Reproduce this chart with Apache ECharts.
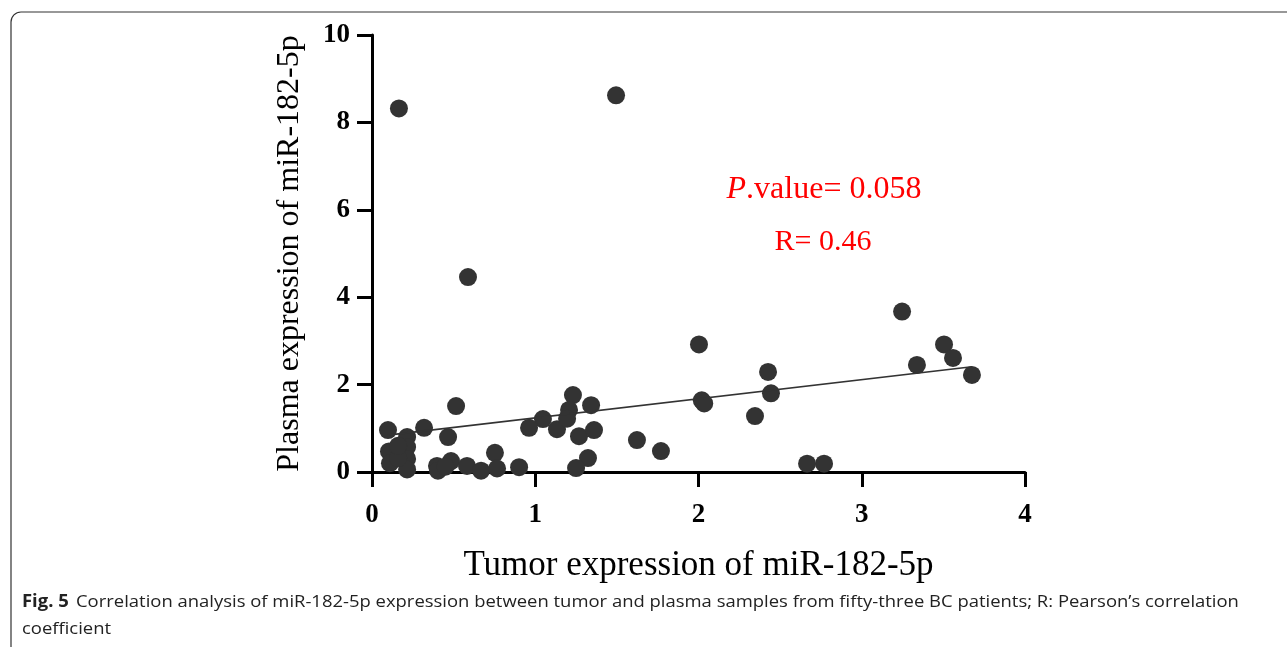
<!DOCTYPE html>
<html>
<head>
<meta charset="utf-8">
<script src="https://cdn.jsdelivr.net/npm/echarts@6/dist/echarts.min.js"></script>
<style>
html,body{margin:0;padding:0;background:#fff;}
#chart{width:1287px;height:647px;}
</style>
</head>
<body>
<div id="chart"></div>
<script>
// Tumor (x) and plasma (y) expression of miR-182-5p
const tumorExpr = [
  0.165, 1.495, 0.588, 3.247, 2.003, 3.504, 3.559, 3.338, 3.675, 2.426,
  2.444, 2.346, 2.020, 2.035, 1.623, 1.770, 2.665, 2.769, 1.231, 1.342,
  1.047, 0.962, 1.133, 1.207, 1.195, 1.268, 1.360, 1.323, 1.250, 0.901,
  0.515, 0.098, 0.319, 0.466, 0.215, 0.104, 0.110, 0.215, 0.215, 0.215,
  0.160, 0.753, 0.398, 0.484, 0.582, 0.668, 0.766, 0.404, 0.450, 0.160
];
const plasmaExpr = [
  8.32, 8.62, 4.46, 3.67, 2.92, 2.92, 2.61, 2.45, 2.22, 2.29,
  1.80, 1.28, 1.64, 1.57, 0.73, 0.48, 0.19, 0.19, 1.76, 1.53,
  1.21, 1.01, 0.98, 1.42, 1.22, 0.82, 0.96, 0.32, 0.09, 0.11,
  1.51, 0.96, 1.01, 0.80, 0.80, 0.47, 0.20, 0.57, 0.30, 0.06,
  0.32, 0.44, 0.14, 0.25, 0.14, 0.03, 0.08, 0.03, 0.12, 0.60
];
// Fitted regression line endpoints
const fitX = [0.098, 3.675];
const fitY = [0.843, 2.408];
const xTicks = [0, 1, 2, 3, 4];
const yTicks = [0, 2, 4, 6, 8, 10];

const points = tumorExpr.map((x, i) => [x, plasmaExpr[i]]);
const fitLine = fitX.map((x, i) => [x, fitY[i]]);

const chart = echarts.init(document.getElementById('chart'), null, {renderer: 'canvas'});
const serif = "'Liberation Serif', 'DejaVu Serif', serif";
const sans = "'Open Sans', 'Noto Sans', sans-serif";
const axisStyle = {
  axisLine: {show: true, onZero: false, lineStyle: {color: '#000', width: 3}},
  axisTick: {show: true, length: 15, lineStyle: {color: '#000', width: 3}},
  splitLine: {show: false}
};
chart.setOption({
  animation: false,
  backgroundColor: '#fff',
  grid: {left: 372, top: 35, right: 262, bottom: 175, containLabel: false},
  xAxis: Object.assign({
    type: 'value', min: xTicks[0], max: xTicks[xTicks.length - 1], interval: 1,
    name: 'Tumor expression of miR-182-5p', nameLocation: 'middle', nameGap: 76,
    nameTextStyle: {fontFamily: serif, fontSize: 35, color: '#000'},
    axisLabel: {fontFamily: serif, fontWeight: 'bold', fontSize: 27, color: '#000', margin: 30}
  }, axisStyle),
  yAxis: Object.assign({
    type: 'value', min: yTicks[0], max: yTicks[yTicks.length - 1], interval: 2,
    name: 'Plasma expression of miR-182-5p', nameLocation: 'middle', nameGap: 66,
    nameTextStyle: {fontFamily: serif, fontSize: 32, color: '#000'},
    axisLabel: {fontFamily: serif, fontWeight: 'bold', fontSize: 27, color: '#000', margin: 22}
  }, axisStyle),
  series: [
    {
      type: 'line', data: fitLine, showSymbol: false, silent: true, z: 3,
      lineStyle: {color: '#333', width: 1.6}
    },
    {
      type: 'scatter', data: points, symbol: 'circle', symbolSize: 18, silent: true, z: 2,
      itemStyle: {color: '#333333', opacity: 1}
    }
  ],
  graphic: [
    {
      type: 'rect', x: 11, y: 12, z: -1, silent: true,
      shape: {x: 0, y: 0, width: 1320, height: 660, r: 10},
      style: {fill: 'none', stroke: '#333', lineWidth: 1.2}
    },
    {
      type: 'text', silent: true, x: 824, y: 190,
      style: {
        x: 0, y: 0, text: '{i|P}{n|.value= 0.058}', align: 'center', verticalAlign: 'middle',
        rich: {
          i: {fontFamily: serif, fontStyle: 'italic', fontSize: 32, fill: '#ff0000', color: '#ff0000'},
          n: {fontFamily: serif, fontSize: 32, fill: '#ff0000', color: '#ff0000'}
        }
      }
    },
    {
      type: 'text', silent: true, x: 823, y: 242,
      style: {x: 0, y: 0, text: 'R= 0.46', align: 'center', verticalAlign: 'middle',
        fontFamily: serif, fontSize: 30, fill: '#ff0000'}
    },
    {
      type: 'text', silent: true, x: 22, y: 602, scaleX: 1.085, originX: 0, originY: 0,
      style: {
        x: 0, y: 0, verticalAlign: 'middle',
        text: '{b|Fig. 5}  {n|Correlation analysis of miR-182-5p expression between tumor and plasma samples from fifty-three BC patients; R: Pearson\u2019s correlation}',
        rich: {
          b: {fontFamily: sans, fontWeight: 'bold', fontSize: 17, fill: '#222', color: '#222'},
          n: {fontFamily: sans, fontSize: 17, fill: '#222', color: '#222'}
        }
      }
    },
    {
      type: 'text', silent: true, x: 22, y: 629, scaleX: 1.085, originX: 0, originY: 0,
      style: {x: 0, y: 0, verticalAlign: 'middle', text: 'coefficient',
        fontFamily: sans, fontSize: 17, fill: '#222'}
    }
  ]
});
</script>
</body>
</html>
